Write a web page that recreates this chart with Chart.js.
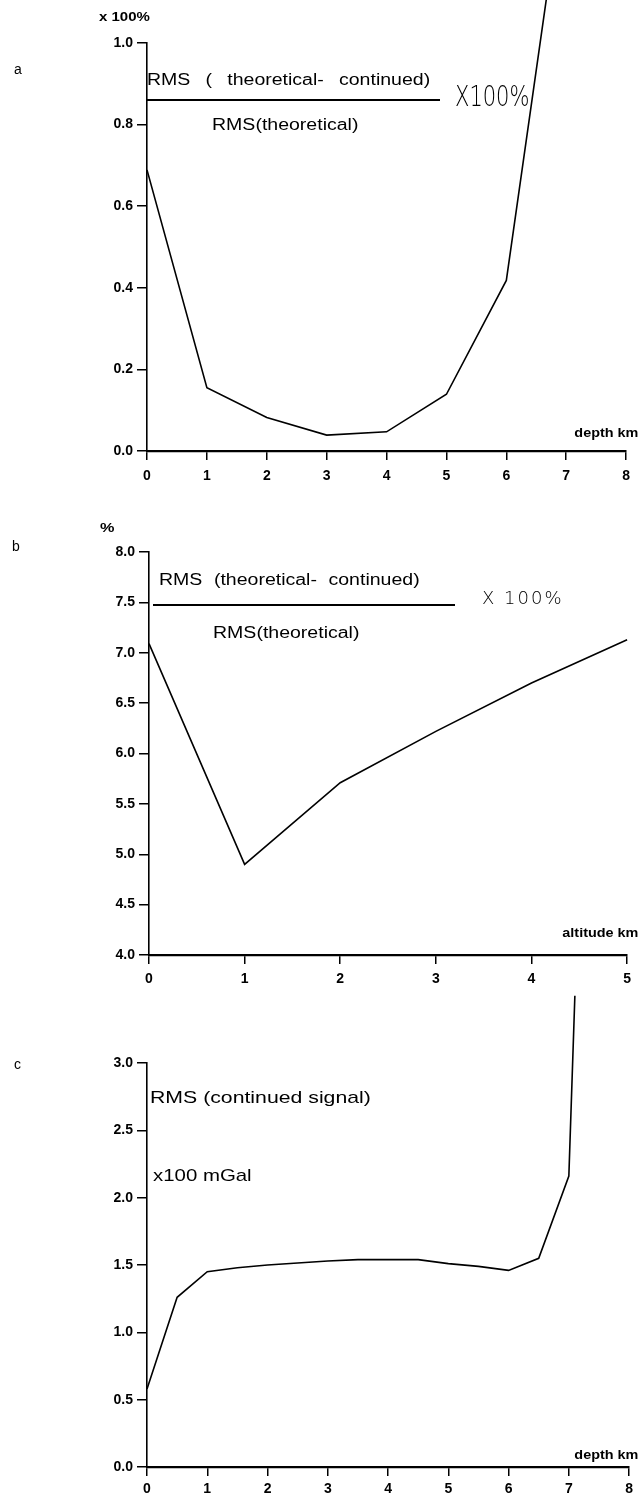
<!DOCTYPE html>
<html lang="en">
<head>
  <meta charset="UTF-8" />
  <title>RMS vs depth / altitude</title>
  <script src="https://cdn.jsdelivr.net/npm/chart.js"></script>
  <style>
    body { margin: 0; background: #fff; }
    #page { position: relative; width: 638px; height: 1504px; overflow: hidden; font-family: 'Liberation Sans', Arial, sans-serif; color: #000; }
    canvas { position: absolute; left: 0; }
    .t { position: absolute; white-space: nowrap; line-height: 1; transform-origin: left top; }
    .wide { font-size: 16px; transform: translateY(-50%) scaleX(1.22); }
    .big { font-size: 17px; transform: translateY(-50%) scaleX(1.25); }
    .small { font-size: 12px; font-weight: bold; transform: translateY(-50%) scaleX(1.25); }
    .unit { font-size: 12px; font-weight: bold; transform: translateY(-50%) scaleX(1.2); transform-origin: right top; right: 0; }
    .hand { font-family: 'DejaVu Sans', sans-serif; font-weight: 200; }
    .bar { position: absolute; border-top: 2px solid #000; height: 0; }
  </style>
</head>
<body>
<div id="page">
  <canvas id="chartA" width="638" height="500" style="top:0"></canvas>
  <canvas id="chartB" width="638" height="500" style="top:500px"></canvas>
  <canvas id="chartC" width="638" height="519" style="top:985px"></canvas>

  <!-- panel a -->
  <div class="t" style="left:14px;top:62px;font-size:14px">a</div>
  <div class="t small" style="left:99px;top:17px">x 100%</div>
  <div class="t wide" style="left:147px;top:80px;word-spacing:8px">RMS ( theoretical- continued)</div>
  <div class="bar" style="left:147px;top:99px;width:293px"></div>
  <div class="t wide" style="left:212px;top:125px">RMS(theoretical)</div>
  <div class="t hand" style="left:455px;top:97px;font-size:28px;transform:translateY(-50%) scaleX(0.75)">X100%</div>
  <div class="t unit" style="top:433px">depth km</div>

  <!-- panel b -->
  <div class="t" style="left:12px;top:539px;font-size:14px">b</div>
  <div class="t small" style="left:100px;top:527px;font-size:13px">%</div>
  <div class="t wide" style="left:159px;top:580px;word-spacing:5px">RMS (theoretical- continued)</div>
  <div class="bar" style="left:153px;top:604px;width:302px"></div>
  <div class="t wide" style="left:213px;top:633px">RMS(theoretical)</div>
  <div class="t hand" style="left:482px;top:598px;font-size:18px;letter-spacing:2px;transform:translateY(-50%)">X 100%</div>
  <div class="t unit" style="top:933px">altitude km</div>

  <!-- panel c -->
  <div class="t" style="left:14px;top:1057px;font-size:14px">c</div>
  <div class="t big" style="left:150px;top:1097px">RMS (continued signal)</div>
  <div class="t big" style="left:153px;top:1175px;transform:translateY(-50%) scaleX(1.2)">x100 mGal</div>
  <div class="t unit" style="top:1455px">depth km</div>
</div>

<script>
  // panel a: RMS(theoretical - continued) / RMS(theoretical), vs depth
  const depthA = [0, 1, 2, 3, 4, 5, 6, 7];
  const ratioA = [0.689, 0.155, 0.082, 0.039, 0.047, 0.139, 0.418, 1.45];
  const yTicksA = [0, 0.2, 0.4, 0.6, 0.8, 1.0];

  // panel b: same ratio, vs altitude
  const altitudeB = [0, 1, 2, 3, 4, 5];
  const ratioB = [7.09, 4.90, 5.71, 6.22, 6.70, 7.13];
  const yTicksB = [4.0, 4.5, 5.0, 5.5, 6.0, 6.5, 7.0, 7.5, 8.0];

  // panel c: RMS of continued signal (x100 mGal), vs depth
  const depthC = [0, 0.5, 1, 1.5, 2, 2.5, 3, 3.5, 4, 4.5, 5, 5.5, 6, 6.5, 7, 7.1];
  const signalC = [0.58, 1.26, 1.45, 1.48, 1.50, 1.515, 1.53, 1.54, 1.54, 1.54, 1.51, 1.49, 1.46, 1.55, 2.16, 3.5];
  const yTicksC = [0, 0.5, 1.0, 1.5, 2.0, 2.5, 3.0];

  const tickFont = { family: "'Liberation Sans', Arial, sans-serif", size: 14, weight: 'bold' };

  function makeChart(id, xs, ys, xMax, yTicks, opt) {
    const points = xs.map((x, i) => ({ x: x, y: ys[i] }));
    return new Chart(document.getElementById(id), {
      type: 'line',
      data: {
        datasets: [{
          data: points,
          borderColor: '#000',
          borderWidth: 1.6,
          pointRadius: 0,
          tension: 0,
          clip: false
        }]
      },
      options: {
        responsive: false,
        animation: false,
        layout: { padding: { left: 0, right: opt.padRight, top: opt.padTop, bottom: 0 } },
        plugins: { legend: { display: false }, tooltip: { enabled: false } },
        scales: {
          x: {
            type: 'linear',
            min: 0,
            max: xMax,
            grid: { drawOnChartArea: false, drawTicks: true, tickLength: 9, color: '#000', lineWidth: 1.5 },
            border: { display: true, color: '#000', width: 2.2 },
            ticks: { stepSize: 1, color: '#000', font: tickFont, padding: opt.xPad, maxRotation: 0,
              callback: v => String(v) },
            afterFit: s => { s.height = opt.xHeight; }
          },
          y: {
            type: 'linear',
            min: yTicks[0],
            max: yTicks[yTicks.length - 1],
            afterBuildTicks: s => { s.ticks = yTicks.map(v => ({ value: v })); },
            grid: { drawOnChartArea: false, drawTicks: true, tickLength: 10, color: '#000', lineWidth: 1.5 },
            border: { display: true, color: '#000', width: 1.6 },
            ticks: { color: '#000', font: tickFont, padding: 4, callback: v => Number(v).toFixed(1) },
            afterFit: s => { s.width = opt.yWidth; }
          }
        }
      }
    });
  }

  makeChart('chartA', depthA, ratioA, 8, yTicksA, { padTop: 43, padRight: 7, xHeight: 49, yWidth: 147, xPad: 8 });
  makeChart('chartB', altitudeB, ratioB, 5, yTicksB, { padTop: 52, padRight: 4, xHeight: 45, yWidth: 149, xPad: 7 });
  makeChart('chartC', depthC, signalC, 8, yTicksC, { padTop: 78, padRight: 7, xHeight: 37, yWidth: 147, xPad: 5 });
</script>
</body>
</html>
